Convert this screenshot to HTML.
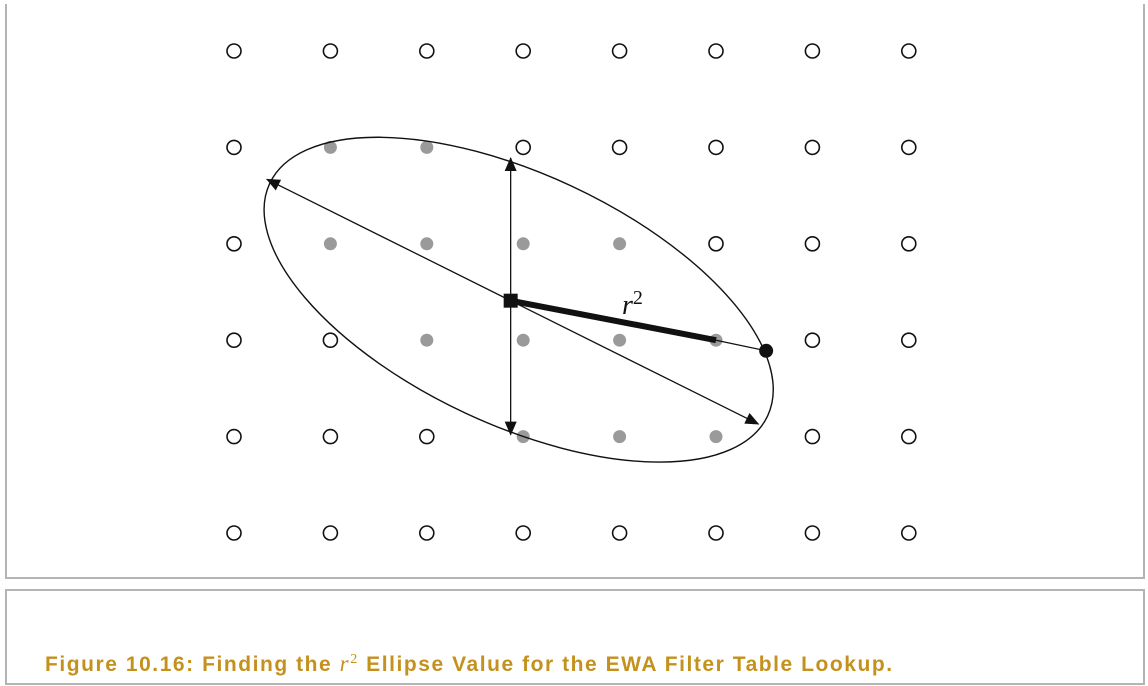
<!DOCTYPE html>
<html><head><meta charset="utf-8"><style>
html,body{margin:0;padding:0;background:#fff;width:1148px;height:686px;overflow:hidden}
#chart{position:absolute;left:5px;top:4px;width:1136px;height:573px;border:2px solid #b4b4b4;border-top:none;border-right:2px solid #b4b4b4}
#cap{position:absolute;left:5px;top:589px;width:1136px;height:92px;border:2px solid #b4b4b4}
#captext{position:absolute;left:38px;top:60px;font-family:"Liberation Sans",sans-serif;font-weight:bold;font-size:21px;color:#c4911c;letter-spacing:1.55px;white-space:nowrap}
svg{position:absolute;left:0;top:0}
</style></head><body>
<div id="chart"></div>
<svg id="svg" width="1148" height="686">
<defs><marker id="ah" markerWidth="14" markerHeight="12" refX="13" refY="6" orient="auto" markerUnits="userSpaceOnUse"><path d="M0,0 L14,6 L0,12 Z" fill="#111"/></marker></defs>
</svg>
<div id="cap"><div id="captext">Figure 10.16: Finding the <span style="font-family:'Liberation Serif',serif;font-style:italic;font-weight:normal;font-size:23px">r</span><sup style="font-family:'Liberation Serif',serif;font-weight:normal;font-size:14px">2</sup> Ellipse Value for the EWA Filter Table Lookup.</div></div>
<script>
const cols=[0,1,2,3,4,5,6,7];
const rows=[0,1,2,3,4,5];
const inside=[[1,1],[2,1],[1,2],[2,2],[3,2],[4,2],[2,3],[3,3],[4,3],[5,3],[3,4],[4,4],[5,4]];
const center=[2.87,2.59];
const majorEnd=[5.44,3.87];
const minorTop=[2.87,1.11];
const minorBot=[2.87,3.98];
const sample=[5.0,3.0];
const edge=[5.52,3.11];
const ellipseA=2.85, ellipseB=1.3, ellipseAngle=25;
const NS='http://www.w3.org/2000/svg';
const svg=document.getElementById('svg');
const X=i=>234+i*96.4, Y=j=>51+j*96.4;
function el(t,a,name){const e=document.createElementNS(NS,t);for(const k in a)e.setAttribute(k,a[k]);


svg.appendChild(e);return e;}
const ins=new Set(inside.map(p=>p.join(',')));
rows.forEach(j=>cols.forEach(i=>{const g=ins.has(i+','+j);
el('circle',{cx:X(i),cy:Y(j),r:g?6.5:7,fill:g?'#9a9a9a':'#fff',stroke:g?'none':'#111','stroke-width':1.6},g?'inside-sample':'grid-sample');}));
const cx=X(center[0]),cy=Y(center[1]);
el('ellipse',{cx:cx+8,cy:cy-1,rx:ellipseA*96.4,ry:ellipseB*96.4,transform:`rotate(${ellipseAngle} ${cx+8} ${cy-1})`,fill:'none',stroke:'#111','stroke-width':1.4},'filter-ellipse');
const mx=X(majorEnd[0])-cx,my=Y(majorEnd[1])-cy;
el('line',{x1:cx,y1:cy,x2:cx+mx,y2:cy+my,stroke:'#111','stroke-width':1.3,'marker-end':'url(#ah)'},'major-axis-arrow');
el('line',{x1:cx,y1:cy,x2:cx-mx+4,y2:cy-my+2,stroke:'#111','stroke-width':1.3,'marker-end':'url(#ah)'},'major-axis-arrow-back');
el('line',{x1:cx,y1:cy,x2:X(minorTop[0]),y2:Y(minorTop[1]),stroke:'#111','stroke-width':1.3,'marker-end':'url(#ah)'},'minor-axis-arrow-up');
el('line',{x1:cx,y1:cy,x2:X(minorBot[0]),y2:Y(minorBot[1]),stroke:'#111','stroke-width':1.3,'marker-end':'url(#ah)'},'minor-axis-arrow-down');
el('line',{x1:X(sample[0]),y1:Y(sample[1]),x2:X(edge[0]),y2:Y(edge[1]),stroke:'#111','stroke-width':1.3},'radius-extension');
el('line',{x1:cx,y1:cy,x2:X(sample[0]),y2:Y(sample[1]),stroke:'#111','stroke-width':6},'r2-radius');
el('rect',{x:cx-7,y:cy-7,width:14,height:14,fill:'#111'},'ellipse-center');
el('circle',{cx:X(edge[0]),cy:Y(edge[1]),r:7,fill:'#111'},'ellipse-edge-point');
const t=el('text',{x:622,y:314,'font-family':'Liberation Serif, serif','font-style':'italic','font-size':28,fill:'#111'},'r2-label');
t.textContent='r';
const s=el('tspan',{dy:-10,'font-style':'normal','font-size':20},'r2-exponent');s.textContent='2';t.appendChild(s);
</script>
</body></html>
